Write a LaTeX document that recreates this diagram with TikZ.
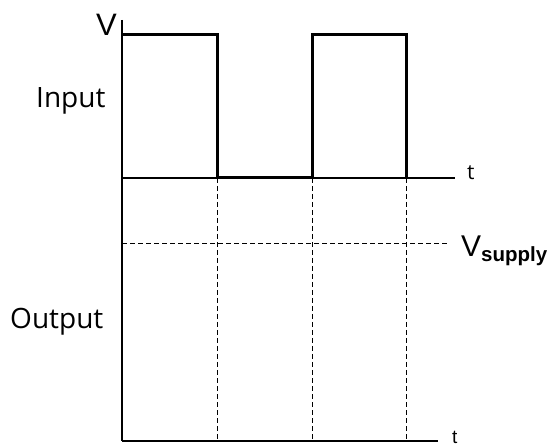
\documentclass[tikz,border=0pt]{standalone}
\usepackage{fontspec}
\setmainfont{Liberation Sans}
\newfontfamily\opensans{Open Sans}
\usepackage{tikz}
\usetikzlibrary{positioning, calc}

\tikzset{
  axisline/.style={line width=1.5pt, black},
  pulseline/.style={line width=3pt, black},
  guideline/.style={line width=0.8pt, dash pattern=on 5pt off 3pt},
  lbl/.style={inner sep=0pt, anchor=base west}
}

\begin{document}
\begin{tikzpicture}[x=1pt, y=-1pt]
        \useasboundingbox (0,0) rectangle (549,446);

        % axes
        \coordinate (vtop) at (122,20);
        \coordinate (inO) at (122,178);
        \coordinate (inT) at (455,178);
        \coordinate (outO) at (122,441);
        \coordinate (outT) at (438,441);
        \draw[axisline] (vtop) -- (outO);
        \draw[axisline] (inO) -- (inT);
        \draw[axisline] (outO) -- (outT);

        % supply level and edges
        \coordinate (supL) at (122,243);
        \coordinate (supR) at (447,243);
        \draw[guideline] (supL) -- (supR);
        \foreach \x/\n in {217/a,312/b,406/c}{
          \coordinate (e\n) at (\x,178);
          \coordinate (f\n) at (\x,441);
          \draw[guideline] (e\n) -- (f\n);
        }

        % input pulses
        \draw[pulseline, line join=miter] (122,35) -- (217,35) -- (ea)
          -- (eb) -- (312,35) -- (406,35) -- (ec);

        \node[lbl, font=\fontsize{31}{33}\selectfont] (vlbl) at (96,36) {V};
        \node[lbl, font=\opensans\fontsize{28}{30}\selectfont] (inlbl)
          at (36,108) {Input};
        \node[lbl, font=\opensans\fontsize{28}{30}\selectfont] (outlbl)
          at (10,329) {Output};
        \node[lbl, font=\opensans\fontsize{21}{23}\selectfont] (tin)
          at (467,180) {t};
        \node[lbl, font=\fontsize{19}{21}\selectfont] (tout)
          at (452,443) {t};
        \node[lbl] (vsup) at (461,257)
          {\fontsize{30}{32}\selectfont V\fontsize{20.5}{23}\selectfont
           \bfseries\raisebox{-5pt}{supply}};
      \end{tikzpicture}
\end{document}
